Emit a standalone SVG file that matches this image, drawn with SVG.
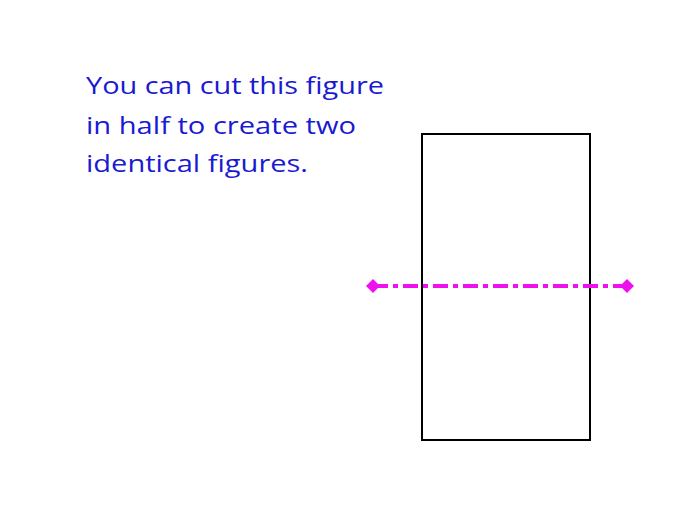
<svg xmlns="http://www.w3.org/2000/svg" width="685" height="525" viewBox="0 0 685 525">
<style>
.t{font-family:"Open Sans","Liberation Sans",sans-serif;font-size:24px;fill:#1a1ad2}
.cut{stroke:#ee11ee;stroke-width:4;stroke-dasharray:15 5 5 5;fill:none}
</style>
<defs>
<marker id="dia" viewBox="-7 -7 14 14" markerWidth="14" markerHeight="14" markerUnits="userSpaceOnUse" orient="auto">
<path d="M-7 0L0 -7L7 0L0 7Z" fill="#ee11ee"/>
</marker>
</defs>
<rect width="685" height="525" fill="#fff"/>
<g id="caption">
<text class="t" x="86" y="94" textLength="298" lengthAdjust="spacingAndGlyphs">You can cut this figure</text>
<text class="t" x="86" y="134" textLength="270" lengthAdjust="spacingAndGlyphs">in half to create two</text>
<text class="t" x="86" y="172" textLength="222" lengthAdjust="spacingAndGlyphs">identical figures.</text>
</g>
<g id="rectangle">
<rect x="422" y="134" width="168" height="306" fill="none" stroke="#000" stroke-width="2"/>
</g>
<g id="connectors">
<line class="cut" x1="373" y1="286" x2="627" y2="286" marker-start="url(#dia)" marker-end="url(#dia)"/>
</g>
</svg>
